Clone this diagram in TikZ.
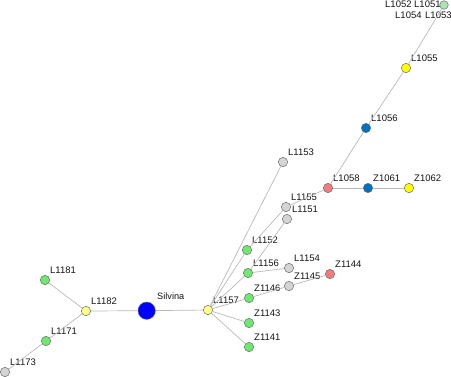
\documentclass[tikz,border=0pt]{standalone}
\usepackage{fontspec}
\setmainfont{Liberation Sans}
\definecolor{ngreen}{RGB}{110,232,110}
\definecolor{ngray}{RGB}{212,212,212}
\definecolor{nyellow}{RGB}{255,255,0}
\definecolor{npyellow}{RGB}{255,255,140}
\definecolor{nred}{RGB}{242,124,124}
\definecolor{nblue}{RGB}{0,112,192}
\definecolor{nsilv}{RGB}{0,0,255}
\definecolor{npgreen}{RGB}{168,230,178}
\definecolor{edgec}{RGB}{185,185,185}
\definecolor{rimc}{RGB}{110,110,110}
\definecolor{txtc}{RGB}{20,20,20}
\tikzset{
  dot/.style={circle, draw=rimc, line width=0.5pt, inner sep=0pt, minimum size=9.4pt},
  bigdot/.style={dot, minimum size=17.4pt},
  lab/.style={anchor=base west, inner sep=0pt, font=\fontsize{9.5}{10}\selectfont, text=txtc},
  link/.style={draw=edgec, line width=0.7pt}
}
\begin{document}
\begin{tikzpicture}[x=1pt,y=-1pt]
\useasboundingbox (0,0) rectangle (451,376);
% nodes: name / x / y / colour
\foreach \n/\x/\y/\c in {
  L1182/86/311/npyellow, L1181/45/280/ngreen, L1171/46/341/ngreen, L1173/5/372/ngray,
  L1157/208/310/npyellow, L1152/247/250/ngreen, L1156/248/273/ngreen,
  Z1146/249/298/ngreen, Z1143/249/323/ngreen, Z1141/249/347/ngreen,
  L1154/289/268/ngray, Z1145/289/286/ngray, Z1144/330/274/nred,
  L1151/287/219/ngray, L1155/286/207/ngray, L1153/283/162/ngray,
  L1058/328/188/nred, Z1061/368/188/nblue, Z1062/409/188/nyellow,
  L1056/366/128/nblue, L1055/406/68/nyellow}{
  \node[dot, fill=\c] (\n) at (\x,\y) {};
  \node[lab] (t\n) at (\x+5,\y-7) {\n};
}
\node[dot, fill=npgreen, minimum size=8.6pt] (L1051) at (444,5) {};
\node[lab] (tL1052) at (385,7.5) {L1052};
\node[lab] (tL1051) at (414,7.5) {L1051};
\node[lab] (tL1054) at (395,18) {L1054};
\node[lab] (tL1053) at (425,18) {L1053};
\node[bigdot, fill=nsilv] (Silvina) at (146.7,310.7) {};
\node[lab, font=\fontsize{9.2}{10}\selectfont] (tSilvina) at (157,299) {Silvina};
% edges
\foreach \a/\b in {Silvina/L1182, Silvina/L1157, L1182/L1181, L1182/L1171, L1171/L1173,
  L1157/L1153, L1157/L1152, L1157/L1156, L1157/Z1146, L1157/Z1143, L1157/Z1141,
  L1152/L1155, L1156/L1151, L1156/L1154, Z1146/Z1145, Z1145/Z1144,
  L1155/L1058, L1058/Z1061, Z1061/Z1062, L1058/L1056, L1056/L1055, L1055/L1051}{
  \draw[link] (\a) -- (\b);
}
\end{tikzpicture}
\end{document}
